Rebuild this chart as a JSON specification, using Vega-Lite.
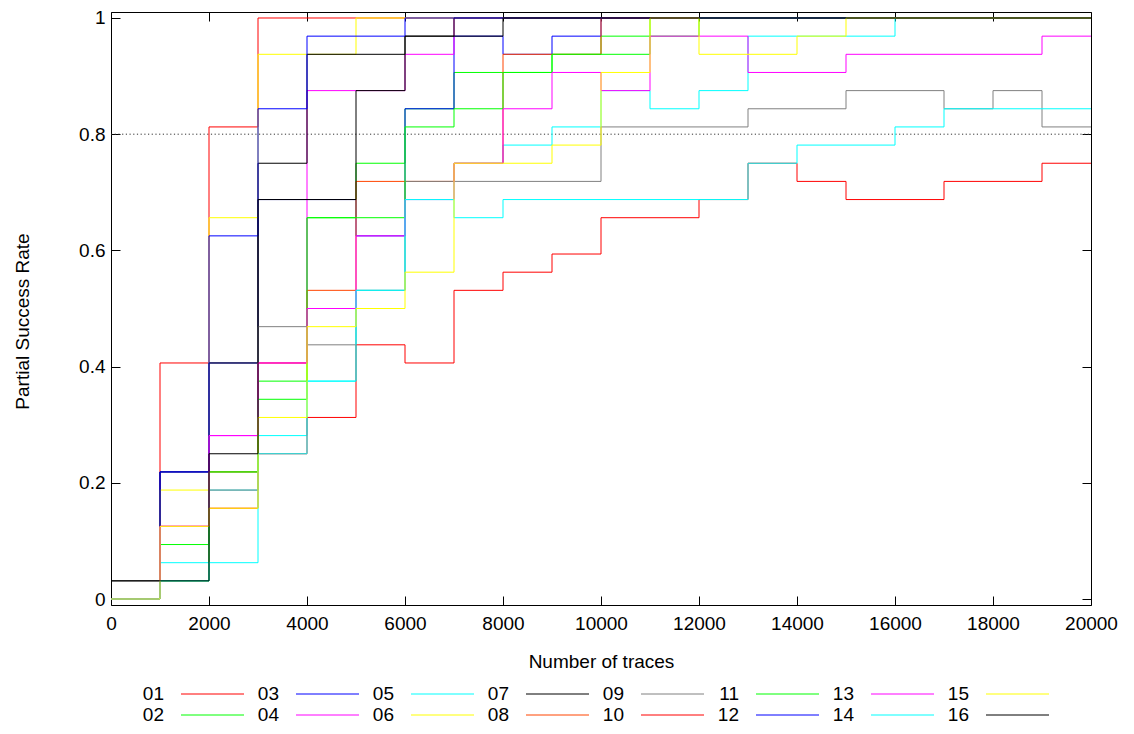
{
  "$schema": "https://vega.github.io/schema/vega-lite/v6.json",
  "width": 980,
  "height": 593,
  "autosize": {"type": "none"},
  "padding": {"left": 111, "top": 12, "right": 43, "bottom": 129},
  "background": "white",
  "config": {
    "font": "Liberation Sans",
    "view": {"stroke": "black", "strokeWidth": 1},
    "axis": {
      "grid": false, "domain": false, "tickColor": "black", "tickWidth": 1,
      "labelColor": "black", "titleColor": "black", "labelFontSize": 19, "titleFontSize": 19,
      "titleFontWeight": "normal", "labelFont": "Liberation Sans", "titleFont": "Liberation Sans",
      "tickSize": -9, "labelFlush": false, "labelOverlap": false
    },
    "legend": {
      "orient": "none", "legendX": 59, "legendY": 671, "padding": 0, "title": null,
      "symbolType": "M0,0H6", "symbolSize": 441, "symbolStrokeWidth": 1,
      "symbolOffset": 0, "labelOffset": -28, "labelAlign": "right",
      "labelFontSize": 19, "labelFont": "Liberation Sans", "labelColor": "black",
      "columns": 8, "columnPadding": 11, "rowPadding": 0
    }
  },
  "datasets": {
    "runs": [
      {"s":"01","x":0,"y":0},{"s":"01","x":1000,"y":0.40625},{"s":"01","x":2000,"y":0.8125},{"s":"01","x":3000,"y":1},{"s":"01","x":20000,"y":1},
      {"s":"02","x":0,"y":0},{"s":"02","x":1000,"y":0.09375},{"s":"02","x":2000,"y":0.21875},{"s":"02","x":3000,"y":0.375},{"s":"02","x":4000,"y":0.65625},{"s":"02","x":5000,"y":0.75},{"s":"02","x":6000,"y":0.84375},{"s":"02","x":7000,"y":0.90625},{"s":"02","x":9000,"y":0.9375},{"s":"02","x":10000,"y":0.96875},{"s":"02","x":11000,"y":1},{"s":"02","x":20000,"y":1},
      {"s":"03","x":0,"y":0},{"s":"03","x":1000,"y":0.21875},{"s":"03","x":2000,"y":0.40625},{"s":"03","x":3000,"y":0.6875},{"s":"03","x":5000,"y":0.625},{"s":"03","x":6000,"y":0.84375},{"s":"03","x":7000,"y":0.96875},{"s":"03","x":8000,"y":0.9375},{"s":"03","x":9000,"y":0.96875},{"s":"03","x":10000,"y":1},{"s":"03","x":20000,"y":1},
      {"s":"04","x":0,"y":0},{"s":"04","x":1000,"y":0.125},{"s":"04","x":2000,"y":0.28125},{"s":"04","x":3000,"y":0.40625},{"s":"04","x":4000,"y":0.875},{"s":"04","x":6000,"y":0.9375},{"s":"04","x":7000,"y":1},{"s":"04","x":20000,"y":1},
      {"s":"05","x":0,"y":0},{"s":"05","x":1000,"y":0.0625},{"s":"05","x":2000,"y":0.1875},{"s":"05","x":3000,"y":0.28125},{"s":"05","x":4000,"y":0.375},{"s":"05","x":5000,"y":0.53125},{"s":"05","x":6000,"y":0.6875},{"s":"05","x":7000,"y":0.75},{"s":"05","x":8000,"y":0.78125},{"s":"05","x":9000,"y":0.8125},{"s":"05","x":10000,"y":0.875},{"s":"05","x":11000,"y":0.84375},{"s":"05","x":12000,"y":0.875},{"s":"05","x":13000,"y":0.96875},{"s":"05","x":16000,"y":1},{"s":"05","x":20000,"y":1},
      {"s":"06","x":0,"y":0},{"s":"06","x":1000,"y":0.1875},{"s":"06","x":2000,"y":0.65625},{"s":"06","x":3000,"y":0.9375},{"s":"06","x":5000,"y":1},{"s":"06","x":20000,"y":1},
      {"s":"07","x":0,"y":0.03125},{"s":"07","x":1000,"y":0.21875},{"s":"07","x":2000,"y":0.40625},{"s":"07","x":3000,"y":0.75},{"s":"07","x":4000,"y":0.9375},{"s":"07","x":6000,"y":0.96875},{"s":"07","x":7000,"y":1},{"s":"07","x":20000,"y":1},
      {"s":"08","x":0,"y":0},{"s":"08","x":1000,"y":0.125},{"s":"08","x":2000,"y":0.21875},{"s":"08","x":3000,"y":0.40625},{"s":"08","x":4000,"y":0.53125},{"s":"08","x":5000,"y":0.71875},{"s":"08","x":7000,"y":0.75},{"s":"08","x":8000,"y":0.9375},{"s":"08","x":10000,"y":1},{"s":"08","x":20000,"y":1},
      {"s":"09","x":0,"y":0},{"s":"09","x":1000,"y":0.03125},{"s":"09","x":2000,"y":0.1875},{"s":"09","x":3000,"y":0.46875},{"s":"09","x":4000,"y":0.4375},{"s":"09","x":5000,"y":0.53125},{"s":"09","x":6000,"y":0.71875},{"s":"09","x":10000,"y":0.8125},{"s":"09","x":13000,"y":0.84375},{"s":"09","x":15000,"y":0.875},{"s":"09","x":17000,"y":0.84375},{"s":"09","x":18000,"y":0.875},{"s":"09","x":19000,"y":0.8125},{"s":"09","x":20000,"y":0.8125},
      {"s":"10","x":0,"y":0},{"s":"10","x":1000,"y":0.125},{"s":"10","x":2000,"y":0.15625},{"s":"10","x":3000,"y":0.25},{"s":"10","x":4000,"y":0.3125},{"s":"10","x":5000,"y":0.4375},{"s":"10","x":6000,"y":0.40625},{"s":"10","x":7000,"y":0.53125},{"s":"10","x":8000,"y":0.5625},{"s":"10","x":9000,"y":0.59375},{"s":"10","x":10000,"y":0.65625},{"s":"10","x":12000,"y":0.6875},{"s":"10","x":13000,"y":0.75},{"s":"10","x":14000,"y":0.71875},{"s":"10","x":15000,"y":0.6875},{"s":"10","x":17000,"y":0.71875},{"s":"10","x":19000,"y":0.75},{"s":"10","x":20000,"y":0.75},
      {"s":"11","x":0,"y":0},{"s":"11","x":1000,"y":0.03125},{"s":"11","x":2000,"y":0.21875},{"s":"11","x":3000,"y":0.34375},{"s":"11","x":4000,"y":0.65625},{"s":"11","x":6000,"y":0.8125},{"s":"11","x":7000,"y":0.84375},{"s":"11","x":8000,"y":0.90625},{"s":"11","x":9000,"y":0.9375},{"s":"11","x":11000,"y":0.96875},{"s":"11","x":12000,"y":1},{"s":"11","x":20000,"y":1},
      {"s":"12","x":0,"y":0},{"s":"12","x":1000,"y":0.21875},{"s":"12","x":2000,"y":0.625},{"s":"12","x":3000,"y":0.84375},{"s":"12","x":4000,"y":0.96875},{"s":"12","x":6000,"y":1},{"s":"12","x":20000,"y":1},
      {"s":"13","x":0,"y":0},{"s":"13","x":1000,"y":0.125},{"s":"13","x":2000,"y":0.28125},{"s":"13","x":3000,"y":0.40625},{"s":"13","x":4000,"y":0.5},{"s":"13","x":5000,"y":0.625},{"s":"13","x":6000,"y":0.6875},{"s":"13","x":7000,"y":0.75},{"s":"13","x":8000,"y":0.84375},{"s":"13","x":9000,"y":0.90625},{"s":"13","x":10000,"y":0.875},{"s":"13","x":11000,"y":0.96875},{"s":"13","x":13000,"y":0.90625},{"s":"13","x":15000,"y":0.9375},{"s":"13","x":19000,"y":0.96875},{"s":"13","x":20000,"y":0.96875},
      {"s":"14","x":0,"y":0},{"s":"14","x":1000,"y":0.03125},{"s":"14","x":2000,"y":0.0625},{"s":"14","x":3000,"y":0.25},{"s":"14","x":4000,"y":0.375},{"s":"14","x":5000,"y":0.53125},{"s":"14","x":6000,"y":0.6875},{"s":"14","x":7000,"y":0.65625},{"s":"14","x":8000,"y":0.6875},{"s":"14","x":13000,"y":0.75},{"s":"14","x":14000,"y":0.78125},{"s":"14","x":16000,"y":0.8125},{"s":"14","x":17000,"y":0.84375},{"s":"14","x":20000,"y":0.84375},
      {"s":"15","x":0,"y":0},{"s":"15","x":1000,"y":0.125},{"s":"15","x":2000,"y":0.15625},{"s":"15","x":3000,"y":0.3125},{"s":"15","x":4000,"y":0.46875},{"s":"15","x":5000,"y":0.5},{"s":"15","x":6000,"y":0.5625},{"s":"15","x":7000,"y":0.75},{"s":"15","x":9000,"y":0.78125},{"s":"15","x":10000,"y":0.90625},{"s":"15","x":11000,"y":1},{"s":"15","x":12000,"y":0.9375},{"s":"15","x":14000,"y":0.96875},{"s":"15","x":15000,"y":1},{"s":"15","x":20000,"y":1},
      {"s":"16","x":0,"y":0.03125},{"s":"16","x":2000,"y":0.25},{"s":"16","x":3000,"y":0.6875},{"s":"16","x":5000,"y":0.875},{"s":"16","x":6000,"y":0.96875},{"s":"16","x":8000,"y":1},{"s":"16","x":20000,"y":1}
    ],
    "ref": [{"v": 0.8, "a": 0, "b": 20000}]
  },
  "layer": [
    {
      "data": {"name": "ref"},
      "mark": {"type": "rule", "color": "#333333", "strokeWidth": 1, "strokeDash": [1.2, 2.5]},
      "encoding": {
        "x": {"field": "a", "type": "quantitative", "scale": {"domain": [0, 20000], "nice": false, "zero": false},
              "axis": {"orient": "top", "labels": false, "title": null, "values": [0,2000,4000,6000,8000,10000,12000,14000,16000,18000,20000]}},
        "x2": {"field": "b"},
        "y": {"field": "v", "type": "quantitative", "scale": {"domain": [-0.0103, 1.0103], "nice": false, "zero": false},
              "axis": {"orient": "right", "labels": false, "title": null, "values": [0, 0.2, 0.4, 0.6, 0.8, 1]}}
      }
    },
    {
      "data": {"name": "runs"},
      "mark": {"type": "line", "interpolate": "step-after", "strokeWidth": 1},
      "encoding": {
        "x": {"field": "x", "type": "quantitative", "scale": {"domain": [0, 20000], "nice": false, "zero": false},
              "axis": {"orient": "bottom", "values": [0,2000,4000,6000,8000,10000,12000,14000,16000,18000,20000], "format": "d",
                       "labelPadding": 18, "title": "Number of traces", "titleX": 490, "titleY": 56, "titleBaseline": "middle", "titleAlign": "center"}},
        "y": {"field": "y", "type": "quantitative", "scale": {"domain": [-0.0103, 1.0103], "nice": false, "zero": false},
              "axis": {"orient": "left", "values": [0, 0.2, 0.4, 0.6, 0.8, 1], "format": "~g", "labelPadding": 15,
                       "title": "Partial Success Rate", "titleX": -89, "titleY": 309, "titleAngle": 270, "titleBaseline": "middle", "titleAlign": "center"}},
        "color": {"field": "s", "type": "nominal",
                  "scale": {"domain": ["01","02","03","04","05","06","07","08","09","10","11","12","13","14","15","16"],
                            "range": ["#ff0000","#00ff00","#0000ff","#ff00ff","#00ffff","#ffff00","#000000","#ff4500","#808080","#ff0000","#00ff00","#0000ff","#ff00ff","#00ffff","#ffff00","#000000"]}}
      }
    }
  ],
  "resolve": {"axis": {"x": "independent", "y": "independent"}}
}
